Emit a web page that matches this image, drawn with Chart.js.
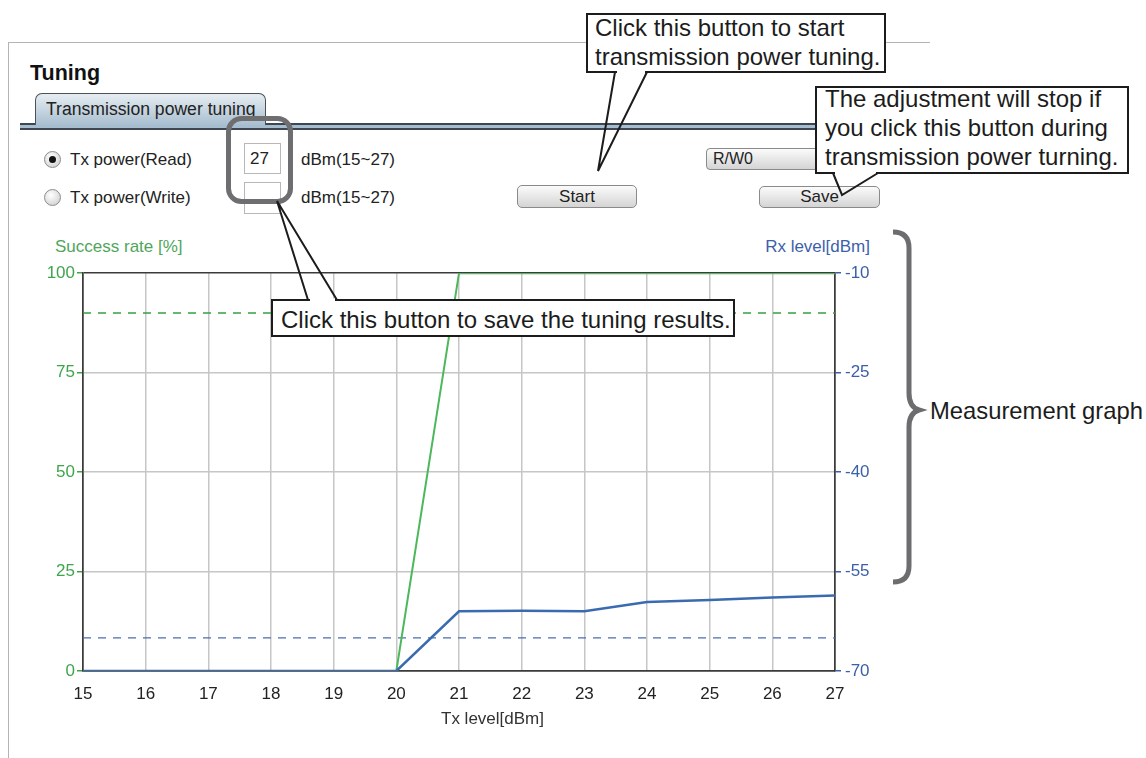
<!DOCTYPE html>
<html lang="en">
<head>
<meta charset="UTF-8">
<title>Tuning</title>
<script src="https://cdn.jsdelivr.net/npm/chart.js@4.4.1/dist/chart.umd.min.js"></script>
<style>
  body { margin: 0; width: 1146px; height: 758px; overflow: hidden; background: #fff;
         font-family: "Liberation Sans", Arial, sans-serif; color: #222; position: relative; }
  .abs { position: absolute; white-space: nowrap; }
  .ui { font-size: 17px; height: 24px; line-height: 24px; }
  .btn { border: 1px solid #8a8a8a; border-radius: 5px; background: linear-gradient(#fbfbfb, #d4d4d4);
         text-align: center; font-size: 17px; box-sizing: border-box; }
  .radio { width: 17px; height: 17px; border-radius: 50%; border: 1px solid #8c8c8c; box-sizing: border-box;
           background: radial-gradient(circle at 40% 35%, #ffffff, #c9c9c9); }
  .callout { border: 2px solid #1c1c1c; background: #fff; box-sizing: border-box; }
  .callout div { position: absolute; font-size: 24px; line-height: 29px; color: #1c1c1c; white-space: nowrap; }
</style>
</head>
<body>

<!-- panel frame -->
<div class="abs" style="left:8px; top:42px; width:922px; height:0; border-top:1.5px solid #b4b4b4;"></div>
<div class="abs" style="left:8px; top:42px; width:0; height:716px; border-left:1.5px solid #b4b4b4;"></div>

<div class="abs" style="left:30px; top:61px; font-size:21.5px; font-weight:bold; line-height:25px; color:#111;">Tuning</div>

<!-- tab strip -->
<div class="abs" style="left:20px; top:123px; width:910px; height:3px; background:#a6bdd0; border-top:2px solid #3d4652; border-bottom:2px solid #3d4652;"></div>
<div class="abs" style="left:35px; top:93px; width:231px; height:32px; box-sizing:border-box; border:1.5px solid #4b5158; border-bottom:none; border-radius:7px 7px 0 0; background:linear-gradient(#e6edf2, #a9bfd0);"></div>
<div class="abs ui" style="left:46px; top:97px; font-size:17.6px; color:#222;">Transmission power tuning</div>

<!-- controls -->
<div class="abs radio" style="left:44px; top:151px;"></div>
<div class="abs" style="left:49px; top:156px; width:7px; height:7px; border-radius:50%; background:#111;"></div>
<div class="abs ui" style="left:70px; top:148px;">Tx power(Read)</div>
<div class="abs radio" style="left:44px; top:189px;"></div>
<div class="abs ui" style="left:70px; top:186px;">Tx power(Write)</div>

<div class="abs" style="left:244px; top:143px; width:37px; height:31px; border:1px solid #b8b8b8; box-sizing:border-box;"></div>
<div class="abs ui" style="left:250px; top:147px;">27</div>
<div class="abs" style="left:244px; top:182px; width:37px; height:32px; border:1px solid #b8b8b8; box-sizing:border-box;"></div>

<div class="abs ui" style="left:301px; top:148px;">dBm(15~27)</div>
<div class="abs ui" style="left:301px; top:186px;">dBm(15~27)</div>

<div class="abs btn" style="left:517px; top:185px; width:120px; height:23px; line-height:21px;">Start</div>
<div class="abs btn" style="left:706px; top:148px; width:135px; height:22px; line-height:20px; text-align:left; padding-left:6px; font-size:16px; border-radius:4px;">R/W0</div>
<div class="abs btn" style="left:759px; top:186px; width:121px; height:22px; line-height:20px;">Save</div>

<!-- chart -->
<div class="abs ui" style="left:55px; top:235px; color:#4fa65b;">Success rate [%]</div>
<div class="abs ui" style="left:700px; width:170px; text-align:right; top:235px; color:#3c61ab;">Rx level[dBm]</div>
<canvas id="tuningChart" class="abs" width="860" height="473" style="left:20px; top:259px;"></canvas>
<div class="abs ui" style="left:441px; top:707px; color:#333;">Tx level[dBm]</div>

<!-- annotations -->
<div class="abs callout" style="left:586px; top:13px; width:300px; height:60px;">
  <div style="left:7px; top:-2.5px;">Click this button to start<br>transmission power tuning.</div>
</div>
<div class="abs callout" style="left:815px; top:86px; width:314px; height:88px;">
  <div style="left:8px; top:-4px;">The adjustment will stop if<br>you click this button during<br>transmission power turning.</div>
</div>
<div class="abs callout" style="left:271px; top:299px; width:464px; height:38px;">
  <div style="left:8px; top:3.5px;">Click this button to save the tuning results.</div>
</div>
<div class="abs" style="left:930px; top:396px; font-size:23.8px; line-height:29px; color:#1c1c1c;">Measurement graph</div>

<svg class="abs" width="1146" height="758" style="left:0; top:0; pointer-events:none;">
  <rect x="228.5" y="118.5" width="62" height="83" rx="13" fill="none" stroke="#6e6e71" stroke-width="5"/>
  <g stroke="#fff" stroke-width="3">
    <line x1="617" y1="72" x2="645" y2="72"/>
    <line x1="835" y1="173" x2="876" y2="173"/>
    <line x1="310" y1="300" x2="335" y2="300"/>
  </g>
  <g fill="none" stroke="#1c1c1c" stroke-width="2" stroke-linejoin="miter">
    <polyline points="615,72 598,171 647,72"/>
    <polyline points="833,173 842,195 878,173"/>
    <polyline points="308,300 277,201 337,300"/>
  </g>
  <path d="M893,232 Q909,232 909,248 L909,393 Q909,407 919,410 Q909,413 909,427 L909,566 Q909,582 893,582"
        fill="none" stroke="#6d6d70" stroke-width="5"/>
</svg>

<script>
const txLevels = ['15', '16', '17', '18', '19', '20', '21', '22', '23', '24', '25', '26', '27'];
const successRate = [0, 0, 0, 0, 0, 0, 100, 100, 100, 100, 100, 100, 100];
const rxLevel = [-70, -70, -70, -70, -70, -70, -61, -60.9, -61, -59.6, -59.3, -58.9, -58.6];
const successThreshold = [90, 90, 90, 90, 90, 90, 90, 90, 90, 90, 90, 90, 90];
const rxThreshold = [-65, -65, -65, -65, -65, -65, -65, -65, -65, -65, -65, -65, -65];
const successTicks = { min: 0, max: 100, step: 25 };
const rxTicks = { min: -70, max: -10, step: 15 };

const GREEN = '#4cb85b';
const GREEN_TEXT = '#3fa54d';
const BLUE = '#3a6bb1';
const BLUE_TEXT = '#3b5fa9';
const DARK = '#3b3b3b';
const GRID = '#c6c6c6';

Chart.defaults.font.family = "'Liberation Sans', Arial, sans-serif";
Chart.defaults.font.size = 17;

const ctx = document.getElementById('tuningChart').getContext('2d');
new Chart(ctx, {
  type: 'line',
  data: {
    labels: txLevels,
    datasets: [
      { label: 'Rx level', data: rxLevel, yAxisID: 'y1', borderColor: BLUE, borderWidth: 2.5,
        pointRadius: 0, order: 0 },
      { label: 'Success rate', data: successRate, yAxisID: 'y', borderColor: GREEN, borderWidth: 2,
        pointRadius: 0, order: 1 },
      { label: 'Success threshold', data: successThreshold, yAxisID: 'y', borderColor: '#35a046',
        borderWidth: 1.4, borderDash: [8, 7], pointRadius: 0, order: 2 },
      { label: 'Rx threshold', data: rxThreshold, yAxisID: 'y1', borderColor: '#4a6eb0',
        borderWidth: 1.4, borderDash: [8, 7], pointRadius: 0, order: 2 }
    ]
  },
  options: {
    responsive: false,
    animation: false,
    layout: { padding: 0 },
    plugins: { legend: { display: false }, tooltip: { enabled: false } },
    scales: {
      x: {
        grid: {
          color: c => (c.index === 0 || c.index === txLevels.length - 1) ? DARK : GRID,
          lineWidth: 1.5, drawTicks: false
        },
        border: { color: DARK, width: 1.5 },
        ticks: { color: '#222', padding: 13, maxRotation: 0, autoSkip: false },
        afterFit: s => { s.height = 61; }
      },
      y: {
        position: 'left',
        min: successTicks.min, max: successTicks.max,
        ticks: { stepSize: successTicks.step, color: GREEN_TEXT, padding: 2 },
        grid: {
          color: c => (c.tick.value === successTicks.max || c.tick.value === successTicks.min) ? DARK : GRID,
          lineWidth: 1.5, tickColor: GREEN_TEXT, tickLength: 6
        },
        border: { color: DARK, width: 1.5 },
        afterFit: s => { s.width = 63; }
      },
      y1: {
        position: 'right',
        min: rxTicks.min, max: rxTicks.max,
        ticks: { stepSize: rxTicks.step, color: BLUE_TEXT, padding: 4 },
        grid: { drawOnChartArea: false, tickColor: BLUE_TEXT, tickLength: 6, lineWidth: 1.5 },
        border: { color: DARK, width: 1.5 },
        afterFit: s => { s.width = 45; }
      }
    }
  }
});
</script>
</body>
</html>
